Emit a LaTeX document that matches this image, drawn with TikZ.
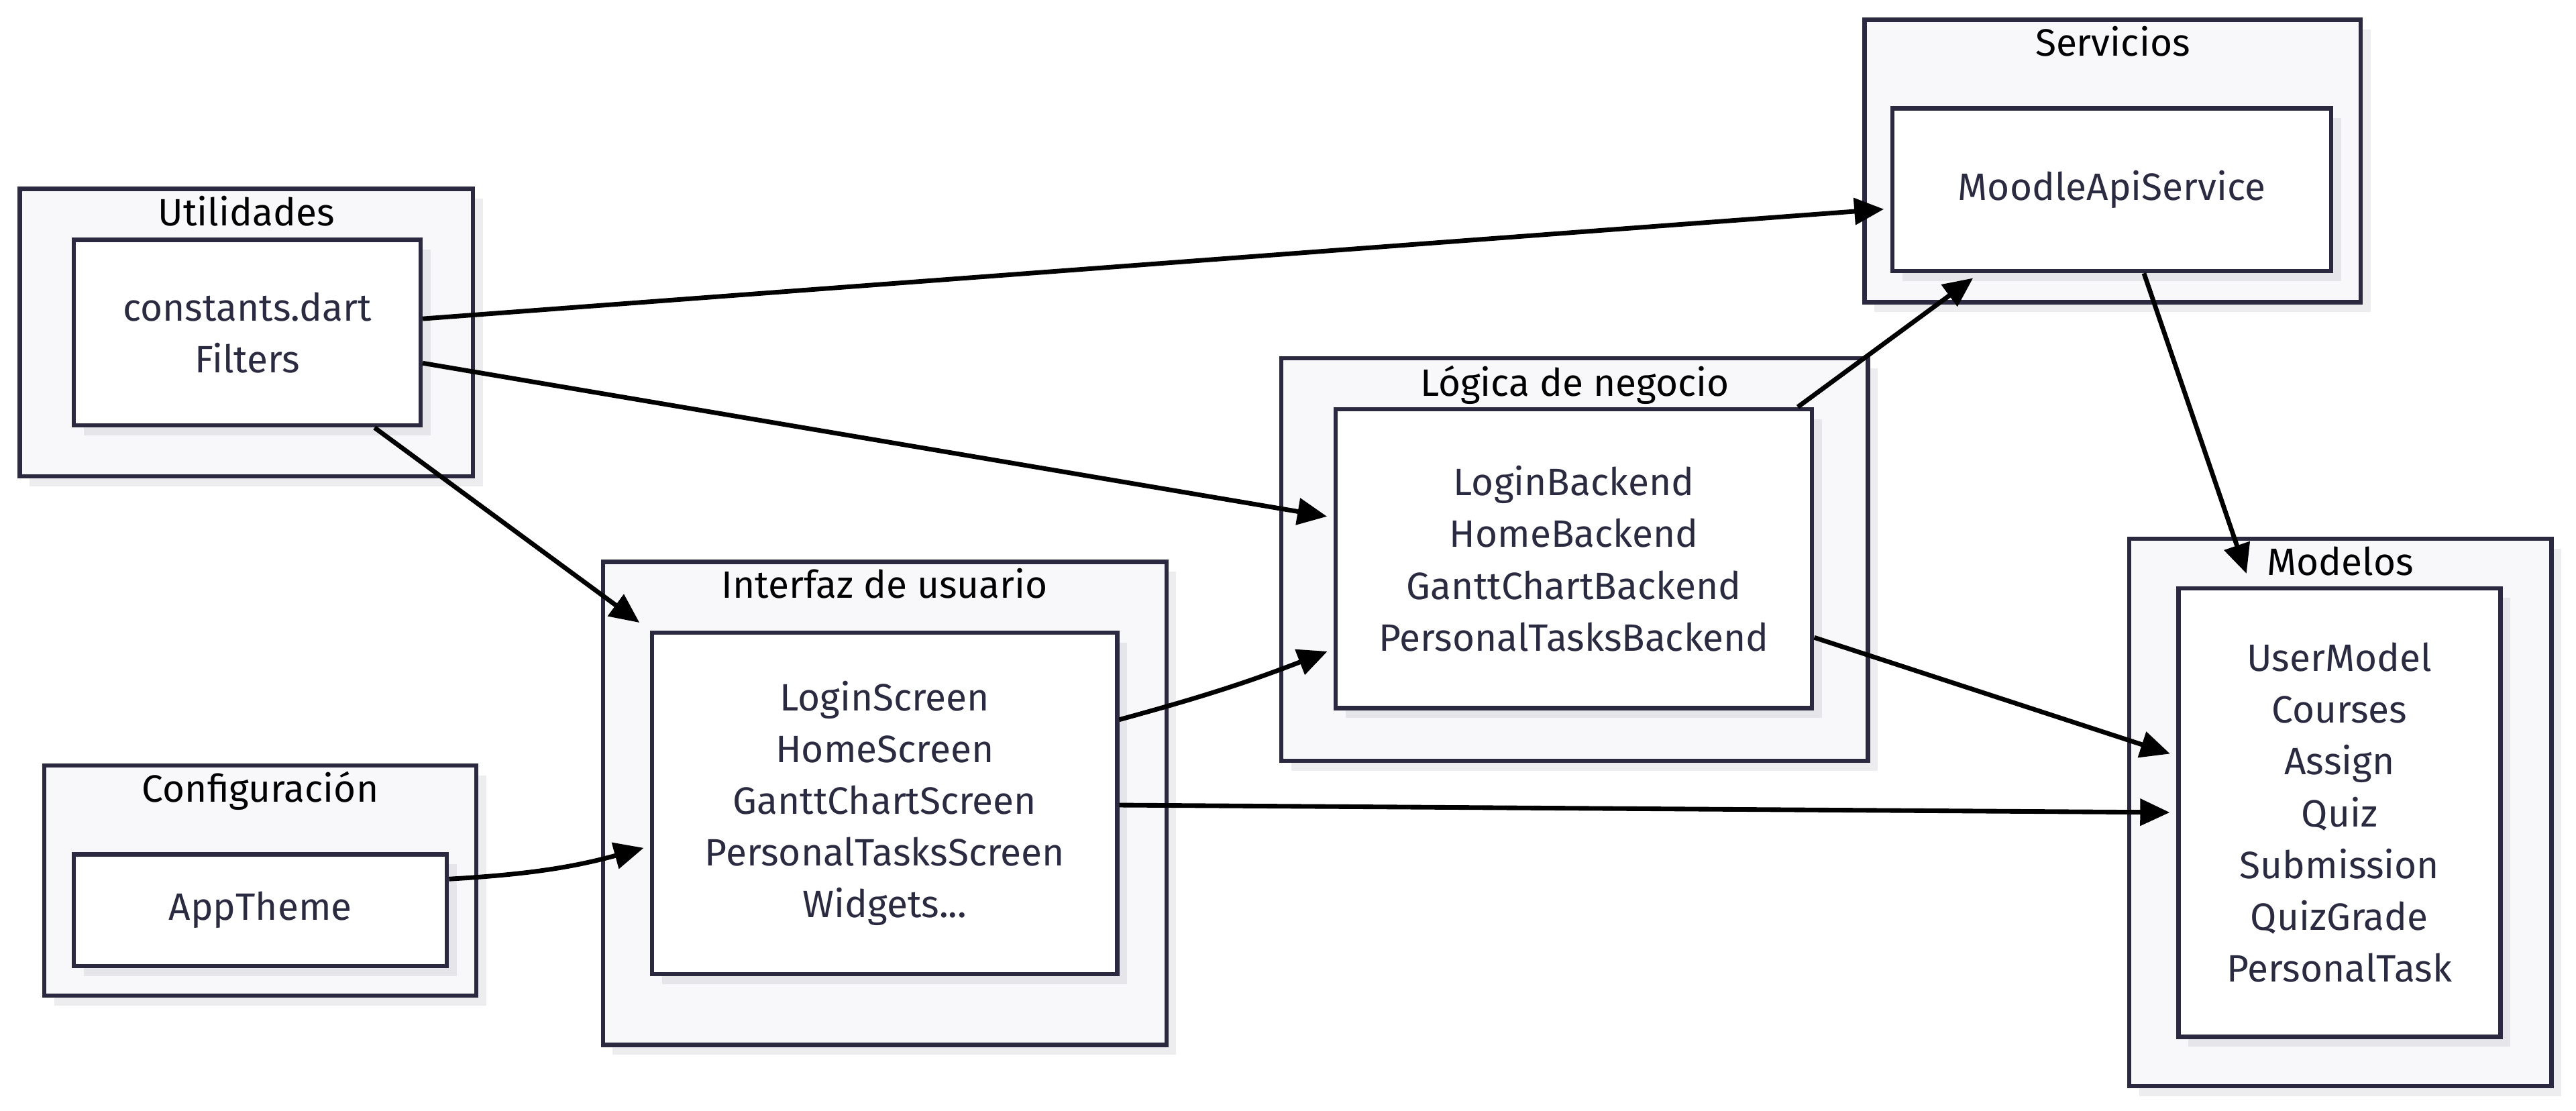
\documentclass[tikz,border=0pt]{standalone}
\usepackage{fontspec}
\setmainfont{Fira Sans}
\usetikzlibrary{arrows.meta,calc,fit,shadows}
\definecolor{boxline}{HTML}{2A2940}
\definecolor{groupfill}{HTML}{F8F8FA}
\definecolor{groupshade}{HTML}{EDEDEF}
\definecolor{moduleshade}{HTML}{E6E6EA}
\definecolor{labelink}{HTML}{2A2A40}
\tikzset{
  group/.style={draw=boxline, line width=1.3pt, fill=groupfill, inner sep=0pt,
    drop shadow={shadow xshift=3pt, shadow yshift=-3pt, fill=groupshade, opacity=1}},
  module/.style={draw=boxline, line width=1.3pt, fill=white, inner sep=0pt,
    drop shadow={shadow xshift=3pt, shadow yshift=-3pt, fill=moduleshade, opacity=1}},
  moduletext/.style={align=center, text=labelink, inner sep=0pt,
    font=\fontsize{11.6}{15.75}\selectfont},
  grouptitle/.style={font=\fontsize{11.6}{13}\selectfont, text=black, inner sep=0pt,
    text height=8pt, text depth=2.5pt},
  link/.style={-{Triangle[length=9pt,width=8pt]}, line width=1.4pt, shorten >=2pt}
}
\begin{document}
\begin{tikzpicture}[x=0.5pt,y=-0.5pt]
  \useasboundingbox (0,0) rectangle (1568,676);
  % groups
  \node[group, fit={(12,115) (288,290)}] (ut) {};
  \node[group, fit={(1135,12) (1437,184)}] (sv) {};
  \node[group, fit={(780,218) (1137,463)}] (lg) {};
  \node[group, fit={(367,342) (710,636)}] (ui) {};
  \node[group, fit={(27,466) (290,606)}] (cf) {};
  \node[group, fit={(1296,328) (1553,661)}] (md) {};
  \node[grouptitle] (utT) at ($(ut.north)+(0,18)$) {Utilidades};
  \node[grouptitle] (svT) at ($(sv.north)+(0,18)$) {Servicios};
  \node[grouptitle] (lgT) at ($(lg.north)+(0,19)$) {Lógica de negocio};
  \node[grouptitle] (uiT) at ($(ui.north)+(0,18)$) {Interfaz de usuario};
  \node[grouptitle] (cfT) at ($(cf.north)+(0,18)$) {Configuración};
  \node[grouptitle] (mdT) at ($(md.north)+(0,18)$) {Modelos};
  % modules
  \node[module, fit={(45,146) (256,259)}] (utI) {};
  \node[module, fit={(1152,66) (1419,165)}] (svI) {};
  \node[module, fit={(813,249) (1103,431)}] (lgI) {};
  \node[module, fit={(397,385) (680,593)}] (uiI) {};
  \node[module, fit={(45,520) (272,588)}] (cfI) {};
  \node[module, fit={(1326,358) (1522,631)}] (mdI) {};
  \node[moduletext] (utL) at (utI) {constants.dart\\Filters};
  \node[moduletext] (svL) at (svI) {MoodleApiService};
  \node[moduletext] (lgL) at (lgI)
    {LoginBackend\\HomeBackend\\GanttChartBackend\\PersonalTasksBackend};
  \node[moduletext] (uiL) at (uiI)
    {LoginScreen\\HomeScreen\\GanttChartScreen\\PersonalTasksScreen\\Widgets...};
  \node[moduletext] (cfL) at (cfI) {AppTheme};
  \node[moduletext] (mdL) at (mdI)
    {UserModel\\Courses\\Assign\\Quiz\\Submission\\QuizGrade\\PersonalTask};
  % links
  \draw[link] ($(utI.east)+(0,-8.5)$) -- ($(svI.west)+(0,11.5)$);
  \draw[link] ($(utI.east)+(0,18.5)$) -- ($(lgI.west)+(0,-25)$);
  \draw[link, shorten >=4pt] ($(utI.south)+(77.5,0)$) -- (uiI.north west);
  \draw[link] ($(cfI.east)+(0,-19)$) to[bend right=6] ($(uiI.west)+(0,26)$);
  \draw[link] ($(uiI.east)+(0,-51)$) to[bend right=3] ($(lgI.west)+(0,55)$);
  \draw[link] ($(uiI.east)+(0,1)$) -- ($(mdI.west)+(0,0)$);
  \draw[link] ($(lgI.east)+(0,48)$) -- ($(mdI.west)+(0,-34.5)$);
  \draw[link, shorten >=2.5pt] ($(lgI.north east)+(-10,0)$) -- ($(svI.south)+(-80.5,0)$);
  \draw[link, shorten >=4pt] ($(svI.south)+(19.5,0)$) -- ($(mdI.north)+(-54,0)$);
\end{tikzpicture}
\end{document}
